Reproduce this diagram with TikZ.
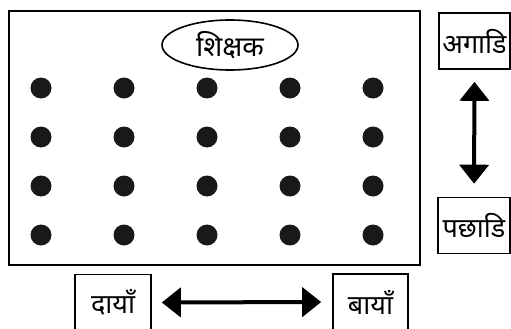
\documentclass[tikz,border=0pt]{standalone}
\usepackage{fontspec}
\newfontfamily\devfont[Script=Devanagari]{Noto Sans}
\usepackage{tikz}
\usetikzlibrary{arrows.meta,positioning,shapes.geometric}

\begin{document}
\begin{tikzpicture}[
  x=1pt,y=-1pt,
  room/.style={draw,line width=2pt,minimum width=411pt,minimum height=254pt,inner sep=0pt},
  dot/.style={circle,fill=black!90,inner sep=0pt,minimum size=21pt},
  teacher/.style={ellipse,draw,line width=1.6pt,minimum width=136pt,minimum height=50pt,
    inner sep=0pt,font=\devfont\fontsize{28}{30}\selectfont},
  lbl/.style={draw,line width=1.6pt,inner sep=0pt,minimum height=56pt,
    font=\devfont\fontsize{27}{30}\selectfont},
  dblarr/.style={{Triangle[length=19pt,width=29pt]}-{Triangle[length=19pt,width=29pt]},
    line width=4pt}
]
  \useasboundingbox (0,0) rectangle (511,329);
  % classroom
  \node[room] (room) at (214.5,138) {};
  \node[teacher] (teacher) at (230,45) {शिक्षक};
  \foreach \c [count=\i] in {41,124,207,290,373}
    \foreach \r [count=\j] in {88,137,186,235}
      \node[dot] (d\i\j) at (\c,\r) {};
  % directions
  \node[lbl,minimum width=71pt] (front) at (474.5,41) {अगाडि};
  \node[lbl,minimum width=72pt] (back) at (474,225.5) {पछाडि};
  \node[lbl,minimum width=76pt] (dayan) at (113,302.5) {दायाँ};
  \node[lbl,minimum width=75pt] (bayan) at (370.5,302) {बायाँ};
  \draw[dblarr,shorten <=12pt,shorten >=13pt] (front.south) -- (back.north);
  \draw[dblarr,shorten <=10pt,shorten >=11pt] (dayan.east) -- (bayan.west);
\end{tikzpicture}
\end{document}
